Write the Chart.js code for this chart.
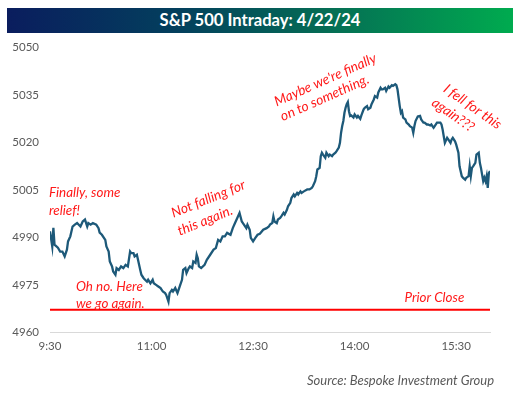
<!DOCTYPE html>
<html>
<head>
<meta charset="utf-8">
<script src="https://cdn.jsdelivr.net/npm/chart.js@4/dist/chart.umd.min.js"></script>
<style>
  html, body { margin: 0; padding: 0; background: #ffffff; }
  #wrap { position: relative; width: 528px; height: 394px; overflow: hidden; }
  #c { position: absolute; left: 0; top: 0; }
  #title {
    position: absolute; left: 7px; top: 8px; width: 506px; height: 25px;
    background: linear-gradient(to right, #0a1d5e 0%, #03415d 35%, #056b55 62%, #00ab4f 100%);
    color: #ffffff; font-family: Lato, "Open Sans", sans-serif; font-weight: bold;
    font-size: 16.6px; line-height: 25px; text-align: center;
  }
  #source {
    position: absolute; left: 307px; top: 372px;
    font-family: Lato, "Open Sans", sans-serif; font-style: italic; font-size: 13px;
    color: #595959; white-space: nowrap;
  }
</style>
</head>
<body>
<div id="wrap">
  <canvas id="c" width="528" height="394"></canvas>
  <div id="title">S&amp;P 500 Intraday: 4/22/24</div>
  <div id="source">Source: Bespoke Investment Group</div>
</div>
<script>
// Minutes after 9:30 (Eastern) for each reading
const minutes = [0,2,3,4,7,9,11,13,15,16,18,20,22,24,27,29,31,33,34,36,38,41,43,44,46,49,50,52,53,55,56,58,59,61,63,65,67,69,71,72,74,75,77,78,80,81,83,86,87,89,91,92,94,96,98,100,102,103,105,106,108,109,111,113,115,117,118,120,121,123,124,126,127,129,130,131,132,134,137,139,142,145,147,149,151,153,155,157,160,162,164,166,168,170,171,174,175,177,178,180,182,184,186,189,192,194,195,197,198,199,201,202,204,205,207,208,210,211,213,214,216,217,219,220,222,223,225,228,230,232,233,235,236,237,239,240,241,242,244,245,247,248,250,251,253,254,256,257,258,259,260,261,262,263,264,265,266,267,269,270,272,273,275,276,278,279,281,282,284,285,287,288,290,291,293,294,295,297,298,300,301,303,304,306,307,308,310,311,312,313,315,316,318,319,321,322,323,324,326,328,329,331,332,334,335,337,338,340,341,343,344,346,347,348,349,350,352,353,355,356,357,359,360,362,363,365,366,368,369,371,372,373,374,375,377,378,380,381,382,383,384,385,386,387,388,389,390];

// S&P 500 level at each reading
const spx = [4992.0,4987.2,4993.1,4987.8,4986.8,4985.6,4985.6,4984.1,4986.2,4988.8,
4990.4,4993.5,4994.1,4994.6,4993.5,4995.1,4995.7,4993.5,4994.6,4994.1,
4994.6,4994.1,4993.0,4991.6,4990.9,4989.3,4987.2,4985.6,4982.5,4980.9,
4979.3,4978.3,4980.4,4979.8,4980.9,4980.4,4981.4,4980.9,4985.6,4985.1,
4985.1,4984.1,4984.6,4983.0,4979.8,4978.3,4977.2,4976.1,4976.7,4975.6,
4976.7,4975.6,4975.1,4974.6,4974.1,4973.0,4972.5,4971.9,4969.8,4972.5,
4973.5,4973.0,4974.1,4972.5,4974.6,4976.7,4979.8,4980.4,4978.8,4980.4,
4980.9,4980.4,4982.5,4982.0,4984.6,4983.5,4980.9,4980.4,4981.4,4983.0,
4984.6,4986.2,4986.7,4989.3,4988.8,4990.4,4990.4,4991.5,4990.9,4993.0,
4994.6,4996.2,4997.8,4995.1,4994.6,4993.0,4994.1,4992.5,4989.9,4988.8,
4989.9,4990.9,4991.2,4992.5,4993.0,4993.5,4994.1,4994.6,4996.7,4995.1,
4994.6,4995.7,4996.2,4996.7,4997.8,4997.3,4998.8,4999.9,5001.0,5002.5,
5003.6,5003.0,5004.1,5003.6,5004.6,5004.1,5004.6,5005.2,5005.2,5005.7,
5006.2,5007.8,5009.4,5011.5,5012.0,5015.7,5016.8,5016.2,5015.2,5016.8,
5015.7,5016.2,5015.7,5016.2,5016.8,5017.3,5018.4,5019.9,5023.1,5025.2,
5026.8,5029.4,5031.0,5032.1,5032.8,5029.9,5028.4,5028.6,5027.9,5028.9,
5027.9,5028.4,5027.5,5028.6,5030.5,5031.0,5031.5,5030.5,5031.0,5032.1,
5033.6,5034.7,5034.2,5035.8,5037.3,5036.8,5036.8,5037.3,5036.3,5037.7,
5037.3,5038.1,5037.9,5038.4,5038.1,5036.8,5031.5,5029.4,5029.9,5027.9,
5027.3,5026.3,5025.7,5025.2,5024.7,5023.1,5025.2,5026.8,5028.2,5028.4,
5027.3,5026.3,5026.3,5025.7,5025.7,5025.4,5025.7,5024.7,5025.2,5026.3,
5026.3,5026.3,5025.7,5024.1,5022.0,5019.9,5021.5,5021.0,5019.9,5021.0,
5021.5,5020.4,5019.4,5016.8,5012.5,5009.4,5008.9,5008.3,5008.9,5009.4,
5012.5,5009.4,5012.0,5012.5,5013.6,5016.2,5016.8,5013.6,5012.0,5009.9,
5007.8,5008.9,5007.8,5009.4,5005.7,5010.4,5011.0];

const priorClose = 4967.23;
const sessionStart = 0, sessionEnd = 390;

const xTickMinutes = [0, 90, 180, 270, 360];
const xTickLabels = ['9:30', '11:00', '12:30', '14:00', '15:30'];
const yMin = 4960, yMax = 5050, yStep = 15;

// Callouts: text, anchor (minutes, level), rotation in degrees
const notes = [
  { text: 'Finally, some', m: -0.9, v: 5004.2, rot: 0 },
  { text: 'relief!', m: -0.9, v: 4998.5, rot: 0 },
  { text: 'Oh no. Here', m: 23.0, v: 4974.4, rot: 0 },
  { text: 'we go again.', m: 23.0, v: 4969.3, rot: 0 },
  { text: 'Not falling for', m: 108.1, v: 4997.6, rot: -22 },
  { text: 'this again.', m: 113.5, v: 4991.9, rot: -22 },
  { text: "Maybe we're finally", m: 199.4, v: 5032.7, rot: -24 },
  { text: 'on to something.', m: 204.8, v: 5028.0, rot: -24 },
  { text: 'I fell for this', m: 350.1, v: 5037.4, rot: 35 },
  { text: 'again???', m: 339.8, v: 5033.1, rot: 35 },
  { text: 'Prior Close', m: 314.2, v: 4971.2, rot: 0 }
];

const notesPlugin = {
  id: 'notes',
  afterDatasetsDraw(chart) {
    const { ctx, scales } = chart;
    ctx.save();
    ctx.fillStyle = '#ff1a1a';
    ctx.textAlign = 'left';
    ctx.textBaseline = 'middle';
    notes.forEach(n => {
      const px = scales.x.getPixelForValue(n.m);
      const py = scales.y.getPixelForValue(n.v);
      ctx.save();
      ctx.font = (n.rot === 0 ? 'italic 13.4px ' : 'italic 13.8px ') + 'Lato, "Open Sans", sans-serif';
      ctx.translate(px, py);
      ctx.rotate(n.rot * Math.PI / 180);
      ctx.fillText(n.text, 0, 0);
      ctx.restore();
    });
    ctx.restore();
  }
};

new Chart(document.getElementById('c'), {
  type: 'line',
  data: {
    datasets: [
      {
        label: 'Prior Close',
        data: [{ x: sessionStart, y: priorClose }, { x: sessionEnd, y: priorClose }],
        borderColor: '#ff0000',
        borderWidth: 2,
        pointRadius: 0,
        order: 2
      },
      {
        label: 'S&P 500',
        data: minutes.map((m, i) => ({ x: m, y: spx[i] })),
        borderColor: '#1d5979',
        borderWidth: 2.3,
        pointRadius: 0,
        tension: 0,
        order: 1
      }
    ]
  },
  options: {
    responsive: false,
    animation: false,
    devicePixelRatio: 1,
    layout: { padding: { top: 47.5, right: 38, bottom: 0, left: 0 } },
    plugins: { legend: { display: false }, tooltip: { enabled: false }, title: { display: false } },
    scales: {
      x: {
        type: 'linear',
        min: sessionStart,
        max: sessionEnd,
        afterBuildTicks: s => { s.ticks = xTickMinutes.map(v => ({ value: v })); },
        afterFit: s => { s.height = 61.3; },
        grid: { display: false, drawTicks: false },
        border: { display: true, color: '#d9d9d9', width: 1 },
        ticks: {
          padding: 7,
          maxRotation: 0,
          autoSkip: false,
          color: '#595959',
          font: { family: 'Lato, "Open Sans", sans-serif', size: 11.5 },
          callback: v => { const i = xTickMinutes.indexOf(v); return i >= 0 ? xTickLabels[i] : ''; }
        }
      },
      y: {
        min: yMin,
        max: yMax,
        afterFit: s => { s.width = 50; },
        grid: { display: false, drawTicks: false },
        border: { display: false },
        ticks: {
          stepSize: yStep,
          padding: 11,
          color: '#595959',
          font: { family: 'Lato, "Open Sans", sans-serif', size: 11.5 },
          callback: v => String(v)
        }
      }
    }
  },
  plugins: [notesPlugin]
});
</script>
</body>
</html>
